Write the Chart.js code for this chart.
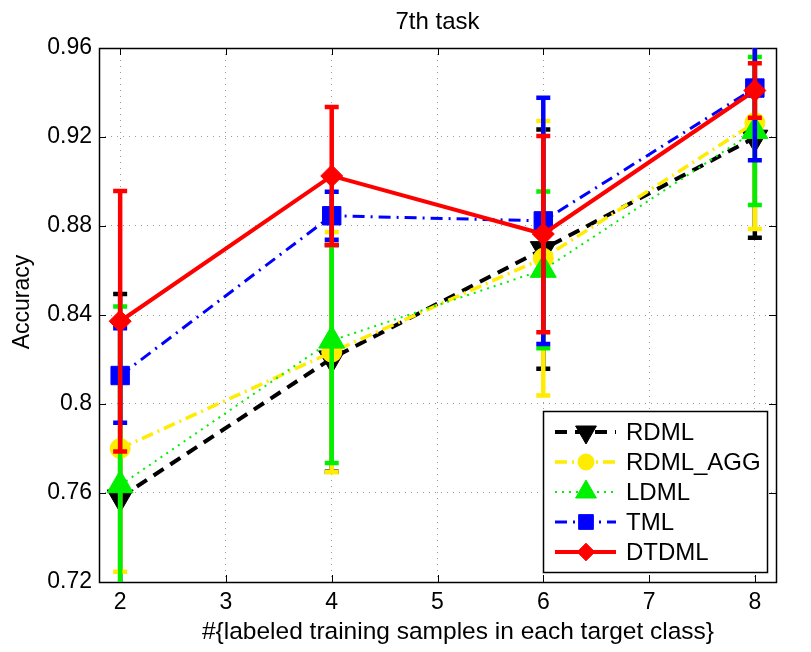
<!DOCTYPE html>
<html>
<head>
<meta charset="utf-8">
<title>7th task</title>
<script src="https://cdn.jsdelivr.net/npm/chart.js@4.4.1/dist/chart.umd.min.js"></script>
<style>
  html, body { margin: 0; padding: 0; background: #fff; }
  #wrap { width: 811px; height: 652px; }
</style>
</head>
<body>
<div id="wrap"><canvas id="chart" width="811" height="652"></canvas></div>
<script>
// ---------------- DATA ----------------
const xValues = [2, 4, 6, 8];
const xTicks = [2, 3, 4, 5, 6, 7, 8];
const yTicks = [0.72, 0.76, 0.8, 0.84, 0.88, 0.92, 0.96];

const seriesNames = ['RDML', 'RDML_AGG', 'LDML', 'TML', 'DTDML'];

const rdmlMean = [0.758, 0.8205, 0.8696, 0.9197];
const rdmlErr = [0.0914, 0.051, 0.0538, 0.045];

const rdmlAggMean = [0.780, 0.8233, 0.8655, 0.9264];
const rdmlAggErr = [0.0554, 0.054, 0.0617, 0.0478];

const ldmlMean = [0.7635, 0.8285, 0.8603, 0.9227];
const ldmlErr = [0.0803, 0.055, 0.0352, 0.0333];

const tmlMean = [0.8128, 0.8846, 0.8823, 0.942];
const tmlErr = [0.0212, 0.0108, 0.0553, 0.0325];

const dtdmlMean = [0.8372, 0.9025, 0.8764, 0.9409];
const dtdmlErr = [0.0585, 0.031, 0.0441, 0.0122];

const FONT = "'Liberation Sans', Arial, Helvetica, sans-serif";
Chart.defaults.font.family = FONT;
Chart.defaults.color = '#000';

function points(means) {
  return xValues.map((x, i) => ({ x: x, y: means[i] }));
}

// stílus soronként (szín, vonaltípus, marker)
function makeSeries(i, means, errs, color, dash, width, style, radius, rotation) {
  return {
    label: seriesNames[i],
    data: points(means),
    errors: errs,
    borderColor: color,
    backgroundColor: color,
    borderWidth: width,
    borderDash: dash,
    borderCapStyle: 'butt',
    pointStyle: style,
    pointRadius: radius,
    pointRotation: rotation,
    pointBackgroundColor: color,
    pointBorderColor: color,
    pointBorderWidth: 1,
    tension: 0,
    fill: false,
    order: seriesNames.length - i
  };
}

const datasets = [
  makeSeries(0, rdmlMean, rdmlErr, '#000000', [12, 8], 4, 'triangle', 15, 180),
  makeSeries(1, rdmlAggMean, rdmlAggErr, '#ffec00', [12, 5, 2, 5], 3.5, 'circle', 10, 0),
  makeSeries(2, ldmlMean, ldmlErr, '#00f000', [2, 5], 2, 'triangle', 15, 0),
  makeSeries(3, tmlMean, tmlErr, '#0000ff', [12, 6, 2, 6], 3, 'rect', 13, 0),
  makeSeries(4, dtdmlMean, dtdmlErr, '#ff0000', [], 4, 'rectRot', 11, 0)
];

// -------- PLUGINS --------

// hibasávok: minden sorozat a saját vonala előtt
const errorBars = {
  id: 'errorBars',
  beforeDatasetDraw(chart, args) {
    const ds = chart.data.datasets[args.index];
    const { ctx, chartArea: a, scales: { x, y } } = chart;
    ctx.save();
    ctx.beginPath();
    ctx.rect(a.left, a.top, a.right - a.left, a.bottom - a.top);
    ctx.clip();
    ctx.strokeStyle = ds.borderColor;
    ctx.lineWidth = 4.5;
    ctx.setLineDash([]);
    ctx.lineCap = 'butt';
    ds.data.forEach((p, i) => {
      const px = x.getPixelForValue(p.x);
      const top = y.getPixelForValue(p.y + ds.errors[i]);
      const bot = y.getPixelForValue(p.y - ds.errors[i]);
      ctx.beginPath();
      ctx.moveTo(px, top); ctx.lineTo(px, bot);
      ctx.moveTo(px - 7, top); ctx.lineTo(px + 7, top);
      ctx.moveTo(px - 7, bot); ctx.lineTo(px + 7, bot);
      ctx.stroke();
    });
    ctx.restore();
  }
};

// keret + befelé mutató tick-ek (MATLAB stílus)
const axesBox = {
  id: 'axesBox',
  beforeDatasetsDraw(chart) {
    const { ctx, chartArea: a, scales: { x, y } } = chart;
    const tl = 7;
    ctx.save();
    ctx.strokeStyle = '#000';
    ctx.lineWidth = 1;
    ctx.setLineDash([]);
    ctx.beginPath();
    xTicks.forEach(v => {
      const px = Math.round(x.getPixelForValue(v)) + 0.5;
      ctx.moveTo(px, a.bottom); ctx.lineTo(px, a.bottom - tl);
      ctx.moveTo(px, a.top); ctx.lineTo(px, a.top + tl);
    });
    yTicks.forEach(v => {
      const py = Math.round(y.getPixelForValue(v)) + 0.5;
      ctx.moveTo(a.left, py); ctx.lineTo(a.left + tl, py);
      ctx.moveTo(a.right, py); ctx.lineTo(a.right - tl, py);
    });
    ctx.stroke();
    ctx.lineWidth = 1.5;
    ctx.strokeRect(Math.round(a.left) + 0.5, Math.round(a.top) + 0.5,
      Math.round(a.right - a.left), Math.round(a.bottom - a.top));
    ctx.restore();
  }
};

// cím, tengelyfeliratok + jelmagyarázat
const labelsAndLegend = {
  id: 'labelsAndLegend',
  afterDraw(chart) {
    const { ctx, chartArea: a } = chart;
    ctx.save();
    ctx.fillStyle = '#000';
    ctx.textAlign = 'center';
    ctx.textBaseline = 'middle';

    ctx.font = '24px ' + FONT;
    ctx.fillText('7th task', (a.left + a.right) / 2, 22);

    ctx.font = '24.5px ' + FONT;
    ctx.fillText('#{labeled training samples in each target class}', 458, 632);

    ctx.save();
    ctx.translate(23, 302);
    ctx.rotate(-Math.PI / 2);
    ctx.font = '23px ' + FONT;
    ctx.fillText('Accuracy', 0, 0);
    ctx.restore();

    // legend box
    const w = 224, h = 161;
    const lx = a.right - 233, ly = a.bottom - 171;
    ctx.fillStyle = '#fff';
    ctx.fillRect(lx, ly, w, h);
    ctx.strokeStyle = '#000';
    ctx.lineWidth = 1.5;
    ctx.setLineDash([]);
    ctx.strokeRect(lx + 0.5, ly + 0.5, w, h);

    chart.data.datasets.forEach((ds, i) => {
      const ry = ly + 21 + i * 30;
      ctx.save();
      ctx.strokeStyle = ds.borderColor;
      ctx.lineWidth = ds.borderWidth;
      ctx.lineCap = 'butt';
      ctx.setLineDash(ds.borderDash);
      ctx.beginPath();
      ctx.moveTo(lx + 12, ry);
      ctx.lineTo(lx + 73, ry);
      ctx.stroke();
      ctx.setLineDash([]);
      ctx.fillStyle = ds.pointBackgroundColor;
      ctx.strokeStyle = ds.pointBorderColor;
      ctx.lineWidth = 1;
      Chart.helpers.drawPoint(ctx, {
        pointStyle: ds.pointStyle,
        radius: ds.pointRadius * 0.8,
        rotation: ds.pointRotation,
        borderWidth: 1
      }, lx + 43, ry);
      ctx.restore();

      ctx.fillStyle = '#000';
      ctx.font = '24px ' + FONT;
      ctx.textAlign = 'left';
      ctx.textBaseline = 'middle';
      ctx.fillText(ds.label, lx + 83, ry + 1);
    });
    ctx.restore();
  }
};

// ---------------- CHART ----------------
new Chart(document.getElementById('chart'), {
  type: 'line',
  data: { datasets: datasets },
  options: {
    responsive: false,
    devicePixelRatio: 1,
    animation: false,
    layout: { padding: { left: 0, right: 35, top: 48, bottom: 0 } },
    plugins: {
      legend: { display: false },
      tooltip: { enabled: false },
      title: { display: false }
    },
    scales: {
      x: {
        type: 'linear',
        min: 1.8,
        max: 8.2,
        afterBuildTicks: s => { s.ticks = xTicks.map(v => ({ value: v })); },
        afterFit: s => { s.height = 70; },
        ticks: { color: '#000', font: { size: 23 }, padding: 7, maxRotation: 0, callback: v => String(v) },
        grid: { color: '#9a9a9a', lineWidth: 1, drawTicks: false },
        border: { display: false, dash: [1, 5] }
      },
      y: {
        type: 'linear',
        min: 0.72,
        max: 0.96,
        afterBuildTicks: s => { s.ticks = yTicks.map(v => ({ value: v })); },
        afterFit: s => { s.width = 99; },
        ticks: { color: '#000', font: { size: 23 }, padding: 7, callback: v => String(v) },
        grid: { color: '#9a9a9a', lineWidth: 1, drawTicks: false },
        border: { display: false, dash: [1, 5] }
      }
    }
  },
  plugins: [errorBars, axesBox, labelsAndLegend]
});
</script>
</body>
</html>
